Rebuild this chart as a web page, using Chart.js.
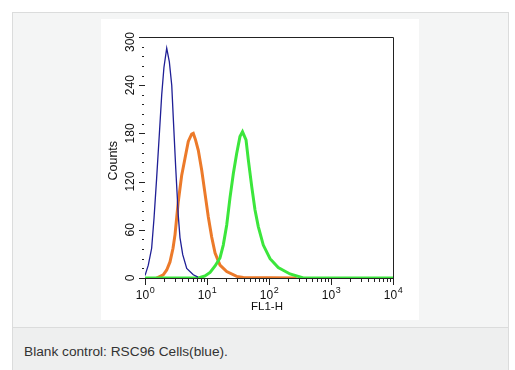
<!DOCTYPE html>
<html lang="en">
<head>
    <meta charset="UTF-8">
    <title>FL1-H histogram</title>
    <script src="https://cdn.jsdelivr.net/npm/chart.js"></script>
    <style>
        body {
            margin: 0;
            background-color: #ffffff;
            font-family: Arial, "Liberation Sans", sans-serif;
        }
        .frame {
            position: absolute;
            left: 12px;
            top: 12px;
            width: 497px;
            height: 380px;
            box-sizing: border-box;
            border: 1px solid #dbdcdc;
            background-color: #eeefef;
        }
        .upper {
            position: absolute;
            left: 0;
            top: 0;
            width: 100%;
            height: 314px;
            background-color: #f4f5f5;
            border-bottom: 1px solid #dbdcdc;
        }
        .plot {
            position: absolute;
            left: 101px;
            top: 19px;
            width: 318px;
            height: 301px;
            background-color: #ffffff;
        }
        .caption {
            position: absolute;
            left: 24px;
            top: 344px;
            font-size: 13.7px;
            line-height: 16px;
            color: #333333;
        }
    </style>
</head>
<body>
    <div class="frame"><div class="upper"></div></div>
    <div class="plot"><canvas id="histChart"></canvas></div>
    <div class="caption">Blank control: RSC96 Cells(blue).</div>

    <script>
        // FL1-H intensity (x) and counts (y)
        const blueX = [1.0, 1.13, 1.28, 1.40, 1.54, 1.70, 1.86, 2.02, 2.24, 2.47, 2.70, 2.86, 3.13, 3.44, 3.67, 4.06, 4.71, 6.01, 7.16];
        const blueY = [3, 16, 37, 75, 124, 178, 228, 262, 286, 269, 240, 199, 137, 78, 50, 29, 12, 4, 1];

        const orangeX = [1.54, 1.97, 2.24, 2.53, 2.83, 3.05, 3.44, 3.91, 4.42, 4.99, 5.66, 6.01, 6.53, 7.24, 8.22, 9.29, 10.5, 11.9, 13.5, 16.2, 20.8, 30.1, 38.5, 280];
        const orangeY = [0, 4, 10, 20, 37, 54, 95, 128, 149, 170, 179, 180, 172, 159, 134, 105, 76, 51, 31, 16, 8, 2, 0.5, 0];

        const greenX = [1.0, 7.24, 9.29, 11.2, 13.5, 16.2, 18.3, 20.8, 23.5, 26.6, 30.1, 34.0, 37.4, 42.6, 46.4, 52.6, 59.4, 67.2, 80.9, 104, 141, 218, 357, 10000];
        const greenY = [0, 0, 2.5, 7, 15, 25, 41, 66, 100, 130, 155, 176, 182, 172, 147, 114, 85, 64, 41, 24, 13, 5, 0, 0];

        const yMajorTicks = [0, 60, 120, 180, 240, 300];
        const yMinorStep = 12;
        const xDecades = [1, 10, 100, 1000, 10000];
        const xExponents = ['0', '1', '2', '3', '4'];

        const FONT = 'Arial, "Liberation Sans", sans-serif';

        function toPoints(xs, ys) {
            return xs.map((x, i) => ({ x: x, y: ys[i] }));
        }

        // axes drawn in the old CellQuest style: ticks outside, frame on top/right
        const flowAxes = {
            id: 'flowAxes',
            beforeDatasetsDraw(chart) {
                const ctx = chart.ctx;
                const a = chart.chartArea;
                ctx.save();
                ctx.strokeStyle = '#222';
                ctx.lineWidth = 1;
                ctx.beginPath();
                ctx.moveTo(a.left - 6, a.top + 0.5);
                ctx.lineTo(a.right + 0.5, a.top + 0.5);
                ctx.lineTo(a.right + 0.5, a.bottom + 0.5);
                ctx.lineTo(a.left, a.bottom + 0.5);
                ctx.stroke();
                ctx.restore();
            },
            afterDraw(chart) {
                const ctx = chart.ctx;
                const a = chart.chartArea;
                const xs = chart.scales.x;
                const ys = chart.scales.y;
                ctx.save();
                ctx.strokeStyle = '#222';
                ctx.fillStyle = '#111';
                ctx.lineWidth = 1;

                // y ticks
                ctx.beginPath();
                for (let v = 0; v <= 300; v += yMinorStep) {
                    const py = Math.round(ys.getPixelForValue(v)) + 0.5;
                    const major = yMajorTicks.includes(v);
                    ctx.moveTo(a.left - (major ? 6 : 3), py);
                    ctx.lineTo(a.left - (major ? 0 : 1), py);
                }
                // x ticks
                xDecades.forEach((d, i) => {
                    const px = Math.round(xs.getPixelForValue(d)) + 0.5;
                    ctx.moveTo(px, a.bottom);
                    ctx.lineTo(px, a.bottom + 7);
                    if (i < xDecades.length - 1) {
                        for (let m = 2; m <= 9; m++) {
                            const mx = Math.round(xs.getPixelForValue(d * m)) + 0.5;
                            ctx.moveTo(mx, a.bottom);
                            ctx.lineTo(mx, a.bottom + 4);
                        }
                    }
                });
                ctx.stroke();

                // y labels, rotated
                ctx.font = '12px ' + FONT;
                ctx.textAlign = 'center';
                ctx.textBaseline = 'middle';
                yMajorTicks.forEach(v => {
                    let py = ys.getPixelForValue(v);
                    if (v === 300) py += 5;
                    ctx.save();
                    ctx.translate(a.left - 14, py);
                    ctx.rotate(-Math.PI / 2);
                    ctx.fillText(String(v), 0, 0);
                    ctx.restore();
                });

                // x labels: 10 with superscript exponent
                xDecades.forEach((d, i) => {
                    const px = xs.getPixelForValue(d);
                    ctx.font = '12px ' + FONT;
                    const w1 = ctx.measureText('10').width;
                    ctx.font = '9px ' + FONT;
                    const w2 = ctx.measureText(xExponents[i]).width;
                    const x0 = px - (w1 + w2) / 2;
                    ctx.textAlign = 'left';
                    ctx.textBaseline = 'alphabetic';
                    ctx.font = '12px ' + FONT;
                    ctx.fillText('10', x0, a.bottom + 21);
                    ctx.font = '9px ' + FONT;
                    ctx.fillText(xExponents[i], x0 + w1 + 0.5, a.bottom + 15);
                });

                // axis titles
                ctx.font = '11.5px ' + FONT;
                ctx.textAlign = 'center';
                ctx.textBaseline = 'middle';
                ctx.fillText('FL1-H', (a.left + a.right) / 2 - 2, a.bottom + 29);
                ctx.save();
                ctx.translate(a.left - 31, ys.getPixelForValue(146));
                ctx.rotate(-Math.PI / 2);
                ctx.font = '12.5px ' + FONT;
                ctx.fillText('Counts', 0, 0);
                ctx.restore();
                ctx.restore();
            }
        };

        function createChart() {
            const ctx = document.getElementById('histChart').getContext('2d');
            new Chart(ctx, {
                type: 'line',
                data: {
                    datasets: [
                        {
                            label: 'Blank control',
                            data: toPoints(blueX, blueY),
                            borderColor: '#1f1f96',
                            borderWidth: 1.3,
                            pointRadius: 0,
                            order: 0
                        },
                        {
                            label: 'Stained',
                            data: toPoints(greenX, greenY),
                            borderColor: '#3ce63c',
                            borderWidth: 3,
                            pointRadius: 0,
                            order: 1
                        },
                        {
                            label: 'Isotype',
                            data: toPoints(orangeX, orangeY),
                            borderColor: '#ec7a2a',
                            borderWidth: 3,
                            pointRadius: 0,
                            order: 2
                        }
                    ]
                },
                options: {
                    responsive: true,
                    maintainAspectRatio: false,
                    animation: false,
                    layout: {
                        padding: { left: 44, right: 26, top: 18, bottom: 42 }
                    },
                    scales: {
                        x: { type: 'logarithmic', min: 1, max: 10000, display: false },
                        y: { type: 'linear', min: 0, max: 300, display: false }
                    },
                    plugins: {
                        legend: { display: false },
                        tooltip: { enabled: false }
                    }
                },
                plugins: [flowAxes]
            });
        }

        window.onload = createChart;
    </script>
</body>
</html>
